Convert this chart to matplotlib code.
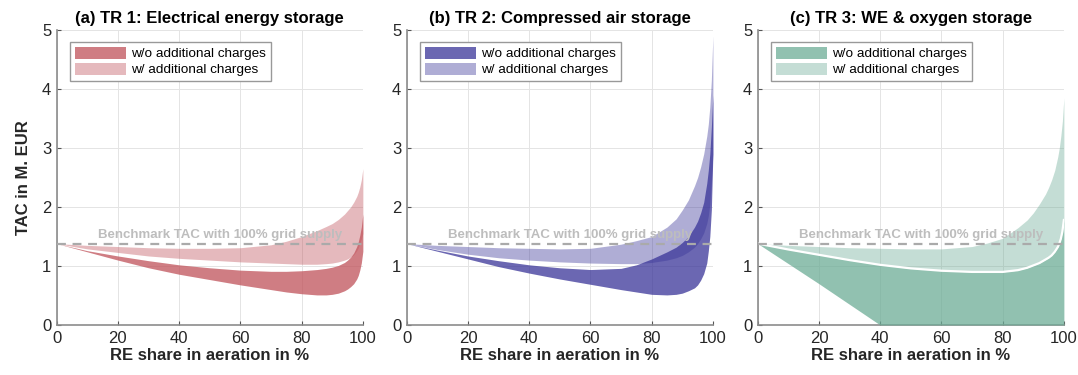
import numpy as np
import matplotlib
matplotlib.use('Agg')
import matplotlib.pyplot as plt
from matplotlib.patches import Patch

plt.rcParams['font.family'] = ['Liberation Sans', 'DejaVu Sans']

# RE share grid (%)
re_share = [0, 10, 20, 30, 40, 50, 60, 70, 75, 80, 85, 88, 90, 92, 94, 95, 96, 97, 98, 98.5, 99, 99.5, 100]

# TR 1: electrical energy storage (M. EUR)
tr1_w_high = [1.38, 1.35, 1.33, 1.31, 1.30, 1.30, 1.31, 1.36, 1.42, 1.50, 1.60, 1.67, 1.72, 1.79, 1.88, 1.94, 2.00, 2.08, 2.18, 2.25, 2.34, 2.46, 2.65]
tr1_w_low = [1.38, 1.29, 1.23, 1.17, 1.13, 1.10, 1.07, 1.05, 1.04, 1.03, 1.03, 1.04, 1.05, 1.07, 1.10, 1.12, 1.15, 1.19, 1.26, 1.31, 1.38, 1.46, 1.55]
tr1_wo_high = [1.38, 1.26, 1.17, 1.09, 1.02, 0.97, 0.93, 0.91, 0.91, 0.92, 0.94, 0.96, 0.98, 1.01, 1.06, 1.10, 1.15, 1.22, 1.33, 1.41, 1.52, 1.66, 1.88]
tr1_wo_low = [1.38, 1.24, 1.10, 0.97, 0.86, 0.77, 0.68, 0.60, 0.56, 0.53, 0.51, 0.51, 0.52, 0.54, 0.58, 0.61, 0.65, 0.70, 0.78, 0.84, 0.93, 1.05, 1.25]

# TR 2: compressed air storage
tr2_w_high = [1.38, 1.35, 1.33, 1.31, 1.30, 1.29, 1.30, 1.37, 1.43, 1.50, 1.66, 1.80, 1.95, 2.12, 2.36, 2.50, 2.68, 2.90, 3.20, 3.40, 3.70, 4.15, 4.90]
tr2_w_low = [1.38, 1.28, 1.20, 1.14, 1.10, 1.07, 1.05, 1.04, 1.04, 1.06, 1.10, 1.14, 1.18, 1.24, 1.32, 1.38, 1.46, 1.56, 1.72, 1.85, 2.05, 2.40, 2.90]
tr2_wo_high = [1.38, 1.27, 1.17, 1.09, 1.02, 0.97, 0.94, 0.96, 1.02, 1.12, 1.24, 1.32, 1.40, 1.50, 1.66, 1.76, 1.90, 2.08, 2.40, 2.62, 2.90, 3.35, 3.90]
tr2_wo_low = [1.38, 1.25, 1.12, 0.99, 0.88, 0.78, 0.69, 0.60, 0.56, 0.52, 0.51, 0.52, 0.54, 0.58, 0.63, 0.68, 0.76, 0.87, 1.05, 1.25, 1.50, 1.95, 2.90]

# TR 3: WE & oxygen storage
tr3_w_high = [1.38, 1.35, 1.33, 1.31, 1.30, 1.29, 1.29, 1.33, 1.39, 1.47, 1.65, 1.78, 1.90, 2.05, 2.22, 2.33, 2.46, 2.62, 2.85, 3.00, 3.20, 3.45, 3.85]
tr3_wo_high = [1.38, 1.28, 1.19, 1.10, 1.02, 0.96, 0.92, 0.90, 0.90, 0.90, 0.93, 0.97, 1.01, 1.05, 1.11, 1.14, 1.18, 1.24, 1.32, 1.38, 1.46, 1.58, 1.78]
tr3_w_low = tr3_wo_high
tr3_wo_low = [1.38, 1.04, 0.70, 0.35, 0.0, 0.0, 0.0, 0.0, 0.0, 0.0, 0.0, 0.0, 0.0, 0.0, 0.0, 0.0, 0.0, 0.0, 0.0, 0.0, 0.0, 0.0, 0.0]

benchmark = 1.38

titles = ['(a) TR 1: Electrical energy storage',
          '(b) TR 2: Compressed air storage',
          '(c) TR 3: WE & oxygen storage']
colors = ['#c0525a', '#393498', '#6cac96']
bands = [(tr1_wo_low, tr1_wo_high, tr1_w_low, tr1_w_high),
         (tr2_wo_low, tr2_wo_high, tr2_w_low, tr2_w_high),
         (tr3_wo_low, tr3_wo_high, tr3_w_low, tr3_w_high)]

fig = plt.figure(figsize=(10.78, 3.75), dpi=100)
lefts = [0.0526, 0.3773, 0.7029]
axes = [fig.add_axes([l, 0.1333, 0.284, 0.7867]) for l in lefts]

for i, ax in enumerate(axes):
    wo_lo, wo_hi, w_lo, w_hi = bands[i]
    c = colors[i]
    ax.fill_between(re_share, w_lo, w_hi, color=c, alpha=0.4, lw=0, zorder=2)
    ax.fill_between(re_share, wo_lo, wo_hi, color=c, alpha=0.75, lw=0, zorder=3)
    if i == 2:
        # thin white seam between both bands
        ax.plot(re_share, wo_hi, color='white', lw=1.6, zorder=4)
    ax.plot([0, 100], [benchmark, benchmark], color='#aaaaaa', lw=1.6,
            ls=(0, (4, 3)), zorder=5)
    ax.text(53.5, benchmark + 0.05, 'Benchmark TAC with 100% grid supply',
            ha='center', va='bottom', fontsize=9.5, fontweight='bold',
            color='#bdbdbd', zorder=6)

    ax.set_xlim(0, 100)
    ax.set_ylim(0, 5)
    ax.set_xticks(range(0, 101, 20))
    ax.set_yticks(range(0, 6))
    ax.grid(True, color='#e4e4e4', lw=0.7)
    ax.set_axisbelow(True)
    for s in ['top', 'right']:
        ax.spines[s].set_visible(False)
    for s in ['left', 'bottom']:
        ax.spines[s].set_color('#8c8c8c')
        ax.spines[s].set_linewidth(1.2)
    ax.tick_params(direction='in', length=3, width=0.8, color='#555555',
                   labelsize=12, labelcolor='#262626', pad=4)
    ax.set_title(titles[i], fontsize=12, fontweight='bold', pad=5)
    ax.set_xlabel('RE share in aeration in %', fontsize=12,
                  fontweight='bold', color='#262626', labelpad=2)

    handles = [Patch(facecolor=c, alpha=0.75, lw=0),
               Patch(facecolor=c, alpha=0.4, lw=0)]
    leg = ax.legend(handles, ['w/o additional charges', 'w/ additional charges'],
                    loc='upper left', bbox_to_anchor=(0.043, 0.96),
                    borderaxespad=0, fontsize=9.7, handlelength=3.8,
                    handleheight=1.0, handletextpad=0.4, borderpad=0.35,
                    labelspacing=0.2, fancybox=False, framealpha=1,
                    edgecolor='#999999')
    leg.get_frame().set_linewidth(1.0)

axes[0].set_ylabel('TAC in M. EUR', fontsize=12, fontweight='bold',
                   color='#262626', labelpad=8)

fig.savefig('out.png', dpi=100)
